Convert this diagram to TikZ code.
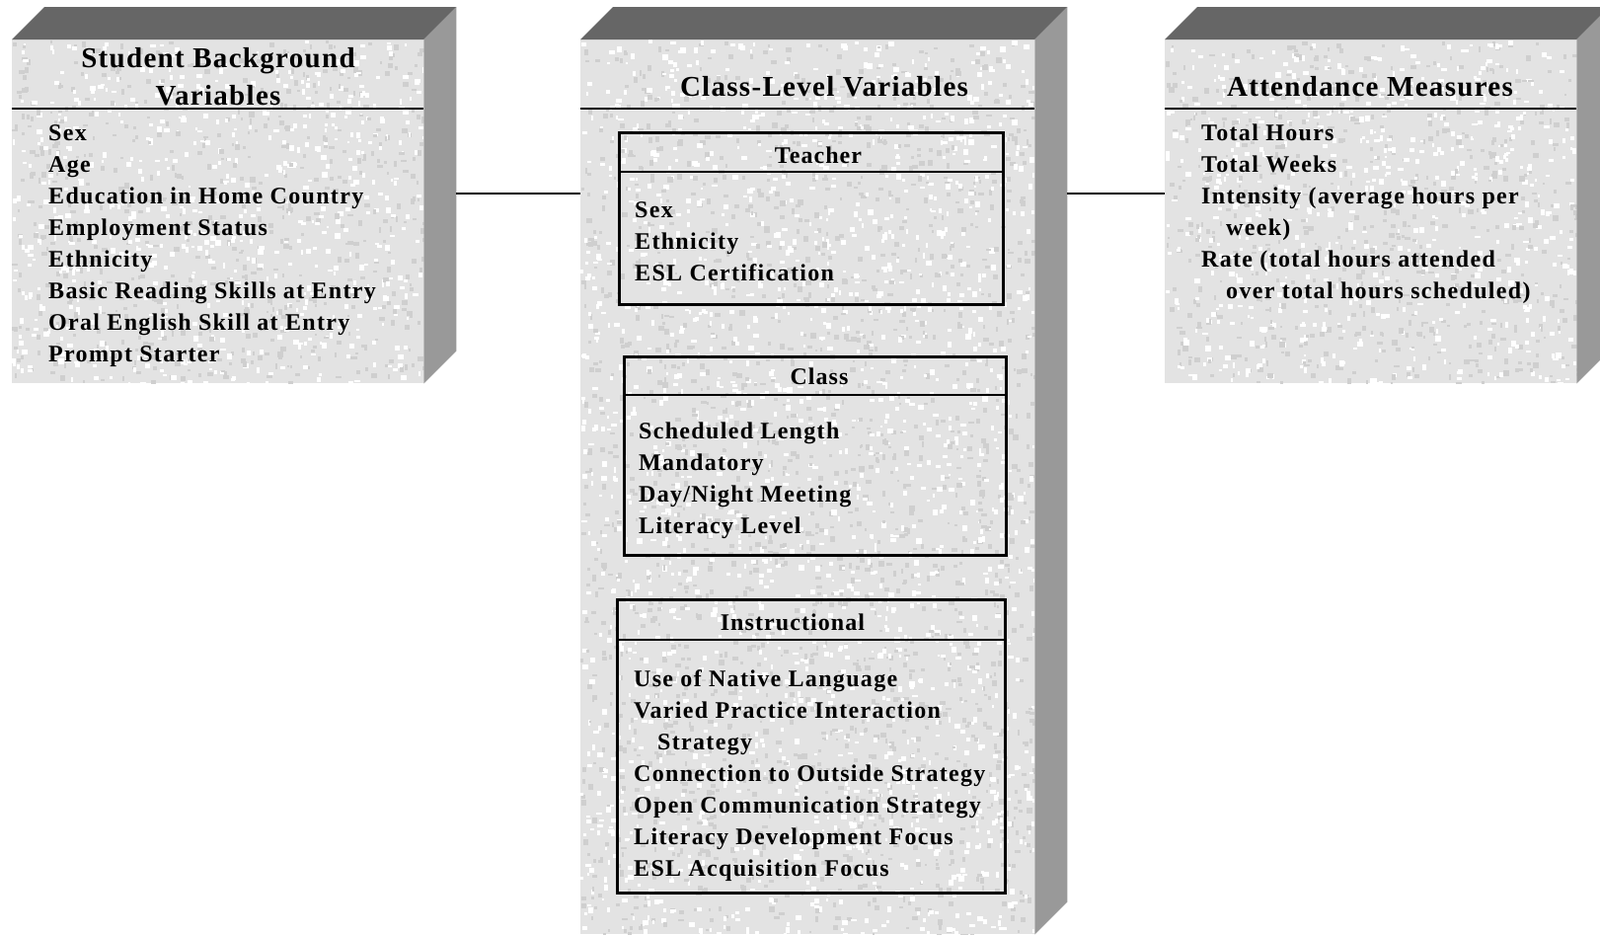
\documentclass[tikz,border=0pt]{standalone}
\usepackage{fontspec}
\newfontfamily\boxfont{Liberation Serif}[LetterSpace=4.5]
\newfontfamily\itemfont{Liberation Serif}[LetterSpace=5.5]
\tikzset{
  front/.style={fill=black!11, inner sep=0pt, anchor=north west},
  topface/.style={fill=black!60},
  sideface/.style={fill=black!40},
  grain/.style={fill=black!19},
  rule/.style={line width=1.5pt},
  subbox/.style={draw, line width=2.8pt, inner sep=0pt, anchor=north west},
  title/.style={font=\boxfont\bfseries\fontsize{29}{38}\selectfont, anchor=base, inner sep=0pt},
  head/.style={font=\boxfont\bfseries\fontsize{24}{32}\selectfont, anchor=base, inner sep=0pt},
  item/.style={font=\itemfont\bfseries\fontsize{24}{32}\selectfont, anchor=base west, inner sep=0pt},
  link/.style={line width=2.2pt},
}
\begin{document}
\begin{tikzpicture}[x=1pt, y=-1pt]
\useasboundingbox (0,0) rectangle (1621,946);
\def\dep{33}
% the three slabs
\foreach \b/\x/\y/\w/\h in {sbv/12/40/417/348, clv/588/40/460/906, att/1180/40/417/348}{
  \node[front, minimum width=\w, minimum height=\h] (\b) at (\x,\y) {};
  \begin{scope}
    \clip (\b.north west) rectangle (\b.south east);
    \pgfmathtruncatemacro\cnt{(\w/15)*(\h/15)}
    \foreach \k in {1,...,\cnt}{
      \fill[grain] (\x+\w*rnd, \y+\h*rnd) rectangle ++(2+4*rnd, 2+4*rnd);
      \fill[white] (\x+\w*rnd, \y+\h*rnd) rectangle ++(2+4*rnd, 2+4*rnd);
    }
  \end{scope}
  \fill[topface] (\b.north west) -- ++(\dep,-\dep) -- ([shift={(\dep,-\dep)}]\b.north east) -- (\b.north east) -- cycle;
  \fill[sideface] (\b.north east) -- ++(\dep,-\dep) -- ([shift={(\dep,-\dep)}]\b.south east) -- (\b.south east) -- cycle;
  \draw[rule] ([yshift=-70pt]\b.north west) -- ([yshift=-70pt]\b.north east);
}
% inner boxes of the class-level slab
\node[subbox, minimum width=389, minimum height=174] (tch) at (626,133) {};
\node[subbox, minimum width=387, minimum height=201] (cls) at (631,360) {};
\node[subbox, minimum width=393, minimum height=297] (ins) at (624,606) {};
\foreach \s/\d in {tch/41, cls/40, ins/42}
  \draw[rule] ([yshift=-\d pt]\s.north west) -- ([yshift=-\d pt]\s.north east);
% titles
\node[title] (sbv-t1) at (221,68) {Student Background};
\node[title] (sbv-t2) at (221,106) {Variables};
\node[title] (clv-t) at (835,97) {Class-Level Variables};
\node[title] (att-t) at (1388,97) {Attendance Measures};
\node[head] (tch-h) at (829,165) {Teacher};
\node[head] (cls-h) at (830,389) {Class};
\node[head] (ins-h) at (803,638) {Instructional};
% lists
\foreach \t [count=\i] in {Sex, Age, Education in Home Country, Employment Status, Ethnicity,
    Basic Reading Skills at Entry, Oral English Skill at Entry, Prompt Starter}
  \node[item] (sbv-\i) at (49,110+32*\i) {\t};
\foreach \t [count=\i] in {Sex, Ethnicity, ESL Certification}
  \node[item] (tch-\i) at (643,188+32*\i) {\t};
\foreach \t [count=\i] in {Scheduled Length, Mandatory, Day/Night Meeting, Literacy Level}
  \node[item] (cls-\i) at (647,412+32*\i) {\t};
\foreach \t [count=\i] in {Use of Native Language, Varied Practice Interaction, \hspace*{24pt}Strategy,
    Connection to Outside Strategy, Open Communication Strategy, Literacy Development Focus,
    ESL Acquisition Focus}
  \node[item] (ins-\i) at (642,663+32*\i) {\t};
\foreach \t [count=\i] in {Total Hours, Total Weeks, {Intensity (average hours per}, \hspace*{25pt}week),
    {Rate (total hours attended}, \hspace*{25pt}over total hours scheduled)}
  \node[item] (att-\i) at (1217,110+32*\i) {\t};
% connectors
\draw[link] ([shift={(\dep,-18)}]sbv.east) -- ([yshift=18pt]sbv.east -| clv.west);
\draw[link] ([shift={(\dep,-18)}]sbv.east -| clv.east) -- ([yshift=18pt]sbv.east -| att.west);
\end{tikzpicture}
\end{document}
